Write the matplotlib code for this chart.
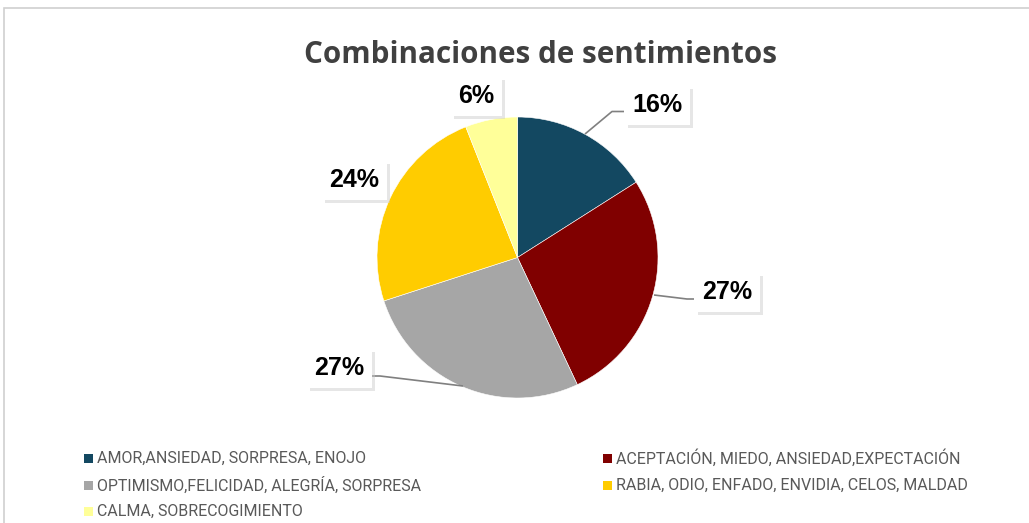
import matplotlib
matplotlib.use("Agg")
import matplotlib.pyplot as plt
from matplotlib import patheffects as pe
from matplotlib.patches import Rectangle

labels = ["AMOR,ANSIEDAD, SORPRESA, ENOJO",
          "ACEPTACIÓN, MIEDO, ANSIEDAD,EXPECTACIÓN",
          "OPTIMISMO,FELICIDAD, ALEGRÍA, SORPRESA",
          "RABIA, ODIO, ENFADO, ENVIDIA, CELOS, MALDAD",
          "CALMA, SOBRECOGIMIENTO"]
values = [16, 27, 27, 24, 6]
colors = ["#134861", "#800000", "#a6a6a6", "#ffcc00", "#ffff99"]

W, H = 1029, 523
fig = plt.figure(figsize=(W / 100, H / 100), dpi=100)
ax = fig.add_axes([0, 0, 1, 1])

# chart frame (runs off the right and bottom edge)
fig.patches.append(Rectangle((4 / W, -0.05), 1.1, 1 - 8 / H + 0.05,
                             transform=fig.transFigure, fill=False,
                             edgecolor="#d0d0d0", linewidth=1.2))

cx, cy, r = 517.5, H - 257.5, 140.5
wedges, _ = ax.pie(values, colors=colors, startangle=90, counterclock=False,
                   center=(cx, cy), radius=r, frame=True,
                   wedgeprops=dict(edgecolor="white", linewidth=0.4))
ax.set_xlim(0, W)
ax.set_ylim(0, H)
ax.set_aspect("equal")
ax.axis("off")

fig.text(540 / W, 1 - 55 / H, "Combinaciones de sentimientos", ha="center", va="center",
         fontsize=21.3, fontweight="bold", color="#404040", family="Open Sans")

# data labels: (x, y) in pixels from top-left
label_pos = [(657, 105), (727, 292), (339, 368), (354, 180), (476, 96)]
leaders = {0: [(585, 134), (612, 111.5), (626, 111.5)],
           1: [(654, 295), (687, 299), (697, 299)],
           2: [(463, 386), (380, 376), (371, 376)]}

for i, pts in leaders.items():
    xs = [p[0] for p in pts]
    ys = [H - p[1] for p in pts]
    ax.plot(xs, ys, color="#808080", linewidth=1.2, solid_capstyle="butt")

for v, (px, py) in zip(values, label_pos):
    t = ax.text(px, H - py, f"{v}%", ha="center", va="center", fontsize=18,
                fontweight="bold", color="black", family="Liberation Sans",
                bbox=dict(boxstyle="square,pad=0.3", facecolor="white",
                          edgecolor="none"))
    t.get_bbox_patch().set_path_effects(
        [pe.SimplePatchShadow(offset=(2.5, -2.5), shadow_rgbFace="#c8c8c8", alpha=0.45),
         pe.Normal()])

# legend
leg_pos = [(88, 458), (607, 458), (88, 485), (607, 485), (88, 511)]
for lab, col, (px, py) in zip(labels, colors, leg_pos):
    ax.add_patch(Rectangle((px - 4, H - py - 4.5), 9, 9, facecolor=col,
                           edgecolor="none"))
    ax.text(px + 9, H - py, lab, ha="left", va="center", fontsize=11.5,
            color="#595959", family="Roboto")

fig.savefig("out.png", dpi=100, facecolor="white")
